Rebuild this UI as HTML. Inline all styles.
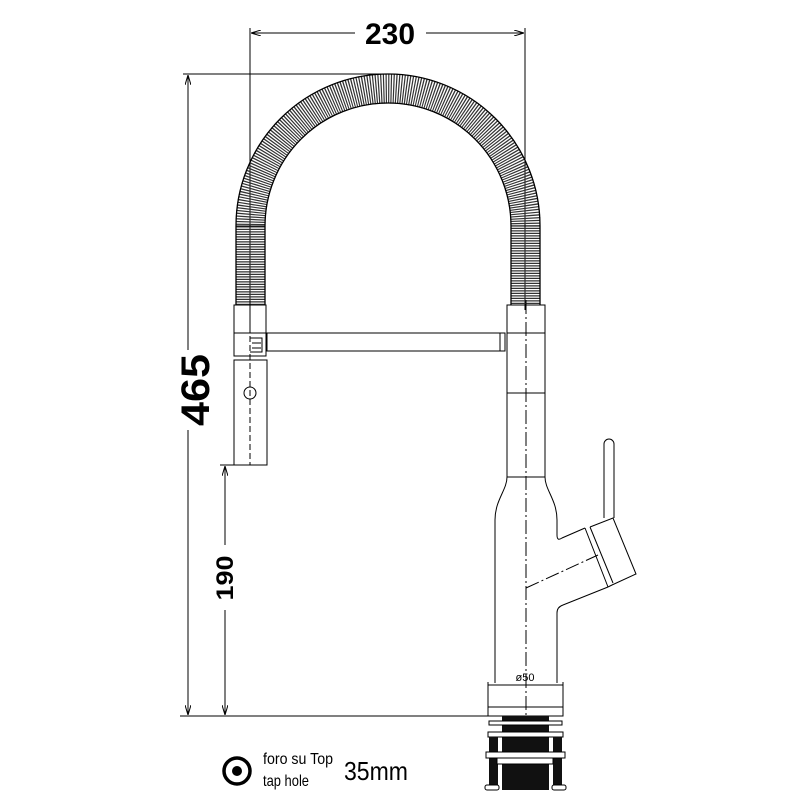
<!DOCTYPE html>
<html><head><style>body{margin:0;background:#fff}svg{display:block}</style></head><body>
<svg width="800" height="800" viewBox="0 0 800 800" xmlns="http://www.w3.org/2000/svg" font-family="Liberation Sans, sans-serif">
<defs><marker id="a" markerWidth="10" markerHeight="6" refX="10" refY="3" orient="auto-start-reverse"><path d="M0,0 L10,3 L0,6" fill="none" stroke="#000" stroke-width="1"/></marker></defs>
<g stroke="#000" fill="none" stroke-width="1">
<line x1="250" y1="28" x2="250" y2="330"/><line x1="525" y1="28" x2="525" y2="310"/>
<line x1="251" y1="33" x2="355" y2="33" marker-start="url(#a)"/><line x1="426" y1="33" x2="524" y2="33" marker-end="url(#a)"/>
<line x1="183" y1="74" x2="385" y2="74"/>
<line x1="188" y1="75" x2="188" y2="350" marker-start="url(#a)"/><line x1="188" y1="430" x2="188" y2="715" marker-end="url(#a)"/>
<line x1="220" y1="465" x2="236" y2="465"/>
<line x1="225" y1="466" x2="225" y2="545" marker-start="url(#a)"/><line x1="225" y1="610" x2="225" y2="715" marker-end="url(#a)"/>
<line x1="180" y1="716" x2="490" y2="716"/>
<path d="M250.5,305 L250.5,226 A137.5,137.5 0 0 1 525.5,226 L525.5,305" stroke="#333" stroke-width="30" stroke-dasharray="1.2 1.3"/>
<path d="M236,305 L236,226 A152,152 0 0 1 540,226 L540,305 M265,305 L265,226 A123,123 0 0 1 511,226 L511,305" stroke-width="1.3"/>
<line x1="236" y1="226" x2="265" y2="226"/><line x1="511" y1="226" x2="540" y2="226"/>
<rect x="234" y="305" width="32" height="28"/>
<rect x="234" y="333" width="32" height="23"/>
<path d="M250,338 h12 v14 h-12 M252,343 h9 M252,348 h9"/>
<rect x="234" y="360" width="33" height="105"/>
<circle cx="250" cy="393" r="6"/>
<line x1="250" y1="300" x2="250" y2="465" stroke-dasharray="6 3"/>
<rect x="267" y="333" width="238" height="18"/>
<line x1="500" y1="333" x2="500" y2="351"/>
<rect x="507" y="305" width="38" height="28"/>
<rect x="507" y="333" width="38" height="60"/>
<rect x="507" y="393" width="38" height="84"/>
<path d="M507,477 C507,490 495,500 495,520 L495,683 M545,477 C545,490 557,500 557,520 L557,535 C557,540 559,540 562,538 L585,528 M557,683 L557,613 C557,608 560,606 563,605 L608,587"/>
<path d="M585,528 L608,587 M590,527 L613,583 M590,527 L613,518 L636,574 L612,585 L608,587"/>
<path d="M604,518 L604,444 A5,5 0 0 1 614,444 L614,518"/>
<line x1="526" y1="300" x2="526" y2="720" stroke-dasharray="14 3 2 3"/>
<line x1="526" y1="588" x2="598" y2="555" stroke-dasharray="14 3 2 3"/>
<line x1="488" y1="682" x2="488" y2="707"/><line x1="563" y1="682" x2="563" y2="707"/>
<line x1="488" y1="685" x2="563" y2="685"/>
<rect x="488" y="707" width="75" height="9"/>
</g>
<g fill="#111">
<rect x="502" y="716" width="47" height="74"/>
<rect x="489" y="721" width="73" height="4" fill="#fff" stroke="#000"/>
<rect x="488" y="732" width="75" height="5" fill="#fff" stroke="#000"/>
<rect x="489" y="737" width="9" height="50"/><rect x="553" y="737" width="9" height="50"/>
<rect x="486" y="752" width="79" height="6" fill="#fff" stroke="#000"/>
<rect x="497" y="758" width="56" height="6" fill="#fff" stroke="#000"/>
<rect x="485" y="785" width="14" height="5" rx="2" fill="#fff" stroke="#000"/>
<rect x="552" y="785" width="14" height="5" rx="2" fill="#fff" stroke="#000"/>
</g>
<text x="525" y="681" font-size="11" text-anchor="middle">ø50</text>
<text x="390" y="44" font-size="30" font-weight="bold" text-anchor="middle">230</text>
<text transform="translate(209,390) rotate(-90)" font-size="40" font-weight="bold" text-anchor="middle" textLength="72" lengthAdjust="spacingAndGlyphs">465</text>
<text transform="translate(233,578) rotate(-90)" font-size="24" font-weight="bold" text-anchor="middle" textLength="45" lengthAdjust="spacingAndGlyphs">190</text>
<circle cx="237" cy="771" r="13" fill="none" stroke="#000" stroke-width="3.5"/>
<circle cx="237" cy="771" r="5" fill="#000"/>
<text x="263" y="764" font-size="16" textLength="70" lengthAdjust="spacingAndGlyphs">foro su Top</text>
<text x="263" y="786" font-size="16" textLength="46" lengthAdjust="spacingAndGlyphs">tap hole</text>
<text x="344" y="780" font-size="26" textLength="64" lengthAdjust="spacingAndGlyphs">35mm</text>
</svg>
</body></html>
